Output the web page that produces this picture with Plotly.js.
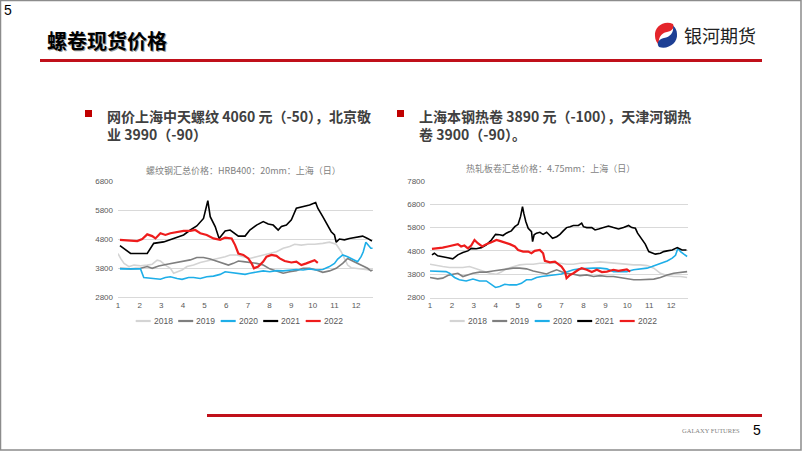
<!DOCTYPE html>
<html><head><meta charset="utf-8">
<script src="https://cdn.plot.ly/plotly-3.0.1.min.js"></script>
<style>html,body{margin:0;padding:0;background:#fff;overflow:hidden}#chart{width:802px;height:451px}</style>
</head><body><div id="chart"></div>
<script>
// ---------- data ----------
const months = [1,2,3,4,5,6,7,8,9,10,11,12];
const monthLabels = ['1','2','3','4','5','6','7','8','9','10','11','12'];
const seriesNames = ['2018','2019','2020','2021','2022'];
const rebarTicks = [2800,3800,4800,5800,6800];
const hrcTicks = [2800,3800,4800,5800,6800,7800];

// 螺纹钢汇总价格：HRB400：20mm：上海（日）
const rebar2018X = [1.00,1.12,1.28,1.51,1.74,2.04,2.35,2.58,2.81,2.96,3.19,3.42,3.57,3.73,3.96,4.19,4.49,4.80,5.10,5.41,5.72,5.95,6.18,6.48,6.79,7.09,7.40,7.71,8.01,8.32,8.63,8.93,9.16,9.47,9.77,10.08,10.46,10.77,11.08,11.31,11.46,11.61,11.77,12.00,12.30,12.61];
const rebar2018Y = [4300,4130,3960,3850,3900,3880,3900,3930,4070,4040,3900,3790,3620,3670,3730,3850,3900,3990,4040,4110,4160,4190,4250,4250,4190,4130,4190,4250,4310,4360,4480,4540,4620,4590,4620,4620,4650,4690,4620,4360,4130,3900,3810,3790,3770,3730];
const rebar2019X = [1.09,1.58,2.04,2.35,2.58,2.88,3.27,3.73,3.96,4.34,4.64,4.95,5.26,5.56,5.87,6.10,6.33,6.56,6.79,7.09,7.40,7.71,8.01,8.32,8.63,8.93,9.24,9.55,9.85,10.16,10.46,10.77,11.08,11.38,11.61,11.84,12.07,12.30,12.53,12.68,12.76];
const rebar2019Y = [3790,3770,3790,3850,3790,3870,3930,3990,4040,4080,4160,4160,4110,4040,3960,3900,3960,4040,4020,3990,3960,3900,3770,3700,3620,3670,3710,3790,3790,3730,3650,3700,3790,3960,4130,4040,3960,3880,3790,3700,3730];
const rebar2020X = [1.09,2.04,2.19,2.81,2.96,3.19,3.42,3.73,3.96,4.26,4.49,4.80,5.10,5.41,5.72,5.95,6.25,6.56,6.87,7.09,7.40,7.71,8.01,8.32,8.63,8.93,9.24,9.55,9.85,10.16,10.46,10.77,11.00,11.15,11.38,11.61,11.84,12.07,12.23,12.33,12.45,12.58,12.68,12.76];
const rebar2020Y = [3770,3770,3470,3440,3410,3470,3500,3440,3410,3470,3470,3440,3500,3520,3580,3670,3640,3620,3580,3620,3670,3700,3670,3710,3700,3730,3750,3730,3770,3730,3750,3850,3960,4110,4250,4190,4110,4020,4190,4360,4690,4590,4480,4480];
const rebar2021X = [1.09,1.58,2.35,2.65,3.11,3.57,4.03,4.34,4.64,4.95,5.15,5.26,5.49,5.67,5.79,5.95,6.18,6.41,6.56,6.87,7.09,7.40,7.71,7.94,8.17,8.40,8.55,8.78,9.01,9.24,9.55,9.85,10.13,10.23,10.46,10.62,10.85,11.00,11.08,11.23,11.46,11.69,12.00,12.30,12.53,12.73];
const rebar2021Y = [4570,4300,4300,4650,4700,4830,4940,5110,5250,5510,6120,5570,5230,4820,4940,5080,5110,5000,4900,4900,5110,5280,5400,5320,5280,5110,5230,5280,5460,5860,5920,5970,6060,5860,5570,5340,5050,4940,4690,4800,4770,4820,4860,4900,4820,4730];
const rebar2022X = [1.09,1.89,2.12,2.35,2.58,2.73,2.96,3.19,3.42,3.73,4.03,4.34,4.57,4.80,5.10,5.41,5.72,5.95,6.25,6.41,6.56,6.79,7.02,7.17,7.28,7.48,7.71,7.86,8.09,8.32,8.47,8.70,9.01,9.24,9.47,9.70,9.93,10.08,10.23];
const rebar2022Y = [4770,4730,4800,4960,4900,4820,5000,4940,5000,5030,5080,5080,5110,5000,4940,4820,4770,4850,4820,4590,4300,4250,4130,3960,3790,3850,4020,4190,4250,4220,4130,4040,3990,4020,3900,3960,4020,4070,3980];

// 热轧板卷汇总价格：4.75mm：上海（日）
const hrc2018X = [1.00,1.28,1.58,1.89,2.19,2.50,2.80,3.03,3.26,3.49,3.72,4.03,4.25,4.48,4.79,5.09,5.40,5.71,6.01,6.32,6.63,6.93,7.23,7.54,7.84,8.15,8.46,8.76,9.07,9.37,9.67,9.98,10.29,10.60,10.90,11.21,11.51,11.82,12.12,12.43,12.73];
const hrc2018Y = [4230,4170,4130,4090,4090,4090,4130,4060,3990,3910,3840,3800,3890,4030,4130,4200,4230,4230,4270,4270,4270,4270,4230,4230,4270,4270,4300,4330,4300,4270,4270,4230,4200,4200,4170,4060,3840,3740,3700,3700,3660];
const hrc2019X = [1.00,1.35,1.58,1.81,2.04,2.27,2.50,2.73,2.96,3.26,3.57,3.87,4.18,4.48,4.79,5.09,5.40,5.71,6.01,6.32,6.55,6.78,7.00,7.23,7.54,7.84,8.15,8.46,8.76,9.07,9.37,9.67,9.98,10.29,10.60,10.90,11.21,11.51,11.82,12.12,12.43,12.73];
const hrc2019Y = [3660,3600,3630,3740,3800,3840,3700,3770,3840,3890,3890,3940,3990,4030,4060,4060,4030,3940,3890,3810,3910,3990,3910,3840,3800,3740,3770,3700,3740,3700,3700,3660,3590,3560,3560,3560,3590,3660,3770,3840,3890,3910];
const hrc2020X = [1.00,1.43,1.73,1.89,2.12,2.34,2.65,2.96,3.26,3.57,3.72,3.99,4.18,4.41,4.64,4.94,5.17,5.40,5.63,5.86,6.09,6.39,6.70,7.00,7.23,7.54,7.84,8.15,8.46,8.76,9.07,9.37,9.67,9.98,10.29,10.60,10.90,11.13,11.36,11.59,11.82,12.05,12.20,12.31,12.43,12.58,12.73];
const hrc2020Y = [3940,3910,3910,3840,3660,3560,3510,3590,3510,3510,3410,3230,3270,3370,3340,3340,3410,3560,3560,3660,3700,3740,3800,3810,3890,3990,4030,4060,4060,4060,4030,3910,3910,3910,3990,4030,4060,4130,4200,4270,4370,4490,4610,4910,4770,4660,4560];
const hrc2021X = [1.09,1.20,1.35,1.58,1.81,2.04,2.27,2.50,2.73,2.88,3.11,3.34,3.57,3.80,3.99,4.18,4.33,4.48,4.71,4.87,5.02,5.13,5.22,5.28,5.37,5.48,5.63,5.68,5.75,5.86,6.01,6.16,6.32,6.47,6.59,6.78,6.93,7.08,7.23,7.39,7.54,7.77,7.92,8.00,8.15,8.38,8.53,8.69,8.91,9.14,9.37,9.60,9.83,10.06,10.21,10.37,10.47,10.67,10.82,10.98,11.13,11.28,11.51,11.66,11.82,12.05,12.28,12.50,12.70];
const hrc2021Y = [4630,4700,4590,4560,4510,4460,4630,4730,4800,4910,4890,4940,5060,5270,5510,5490,5460,5560,5660,5840,5940,6270,6700,6410,6060,5770,5630,5200,5490,5560,5600,5510,5600,5460,5340,5410,5510,5660,5800,5840,5890,5890,5990,5840,5800,5800,5700,5740,5800,5870,5800,5740,5800,5890,5800,5770,5560,5270,5090,4770,4700,4660,4700,4770,4800,4840,4940,4840,4840];
const hrc2022X = [1.09,1.35,1.58,1.81,2.04,2.27,2.42,2.57,2.73,2.88,3.03,3.18,3.38,3.57,3.80,4.03,4.18,4.41,4.64,4.87,5.02,5.25,5.48,5.63,5.78,6.01,6.16,6.24,6.47,6.70,6.85,7.00,7.16,7.23,7.39,7.54,7.77,7.92,8.15,8.38,8.61,8.84,9.07,9.37,9.60,9.83,9.98,10.13];
const hrc2022Y = [4890,4910,4940,4990,5030,5090,4990,5030,4910,5030,5270,5130,4990,5090,5170,5270,5230,5170,5090,4990,4840,4770,4770,4700,4800,4840,4700,4370,4310,4340,4230,4130,3910,3630,3770,3840,3990,4060,3990,3890,3990,3890,3910,3990,3940,3990,4010,3910];

// ---------- styling ----------
const colors = {'2018':'#d4d4d4','2019':'#7f7f7f','2020':'#1eaee8','2021':'#000000','2022':'#ee1c1c'};
const widths = {'2018':1.6,'2019':1.6,'2020':1.6,'2021':1.6,'2022':2.2};
const W = 802, H = 451;
const px = v => v / W, py = v => 1 - v / H;
const conv = s => s.replace(/(-?[\d.]+),(-?[\d.]+)/g, (m,a,b) => px(+a).toFixed(5) + ',' + py(+b).toFixed(5));

const rebarX = [rebar2018X, rebar2019X, rebar2020X, rebar2021X, rebar2022X];
const rebarY = [rebar2018Y, rebar2019Y, rebar2020Y, rebar2021Y, rebar2022Y];
const hrcX = [hrc2018X, hrc2019X, hrc2020X, hrc2021X, hrc2022X];
const hrcY = [hrc2018Y, hrc2019Y, hrc2020Y, hrc2021Y, hrc2022Y];

const traces = [];
seriesNames.forEach((n, i) => {
  traces.push({x: rebarX[i], y: rebarY[i], name: n, type: 'scatter', mode: 'lines', showlegend: false,
    line: {color: colors[n], width: widths[n]}, xaxis: 'x', yaxis: 'y', hoverinfo: 'skip'});
});
seriesNames.forEach((n, i) => {
  traces.push({x: hrcX[i], y: hrcY[i], name: n, type: 'scatter', mode: 'lines', showlegend: false,
    line: {color: colors[n], width: widths[n]}, xaxis: 'x2', yaxis: 'y2', hoverinfo: 'skip'});
});

const tickFont = {family: 'Liberation Sans, Arial, sans-serif', size: 8, color: '#595959'};
const xCommon = {tickvals: months, ticktext: monthLabels, showgrid: false, showline: true, linecolor: '#d9d9d9',
  linewidth: 1, zeroline: false, ticks: '', tickfont: tickFont, fixedrange: true};
const yCommon = {gridcolor: '#d9d9d9', gridwidth: 1, zeroline: false, showline: false, ticks: '',
  tickfont: tickFont, fixedrange: true, ticklabelstandoff: 4};

const cjk = 'Noto Sans CJK SC, sans-serif';

const annotations = [
  {text: '5', x: px(2), y: py(10), xanchor: 'left', yanchor: 'middle', font: {family: 'Liberation Sans, Arial', size: 14, color: '#000'}},
  {text: '<b>螺卷现货价格</b>', x: px(46), y: py(41), xanchor: 'left', yanchor: 'middle', font: {family: cjk, size: 20, color: '#9a9a9a'}},
  {text: '<b>螺卷现货价格</b>', x: px(45), y: py(40), xanchor: 'left', yanchor: 'middle', font: {family: cjk, size: 20, color: '#000'}},
  {text: '银河期货', x: px(682), y: py(35), xanchor: 'left', yanchor: 'middle', font: {family: cjk, size: 18, color: '#222'}},
  {text: '<b>网价上海中天螺纹 4060 元（-50），北京敬</b><br><b>业 3990（-90）</b>', x: px(105), y: py(104), xanchor: 'left', yanchor: 'top', align: 'left', font: {family: cjk, size: 14, color: '#404040'}},
  {text: '<b>上海本钢热卷 3890 元（-100），天津河钢热</b><br><b>卷 3900（-90）。</b>', x: px(417), y: py(104), xanchor: 'left', yanchor: 'top', align: 'left', font: {family: cjk, size: 14, color: '#404040'}},
  {text: '螺纹钢汇总价格：HRB400：20mm：上海（日）', x: px(244), y: py(170), xanchor: 'center', yanchor: 'middle', font: {family: cjk, size: 9, color: '#7f7f7f'}},
  {text: '热轧板卷汇总价格：4.75mm：上海（日）', x: px(550), y: py(168), xanchor: 'center', yanchor: 'middle', font: {family: cjk, size: 9, color: '#7f7f7f'}},
  {text: 'GALAXY FUTURES', x: px(711), y: py(430), xanchor: 'center', yanchor: 'middle', font: {family: 'Liberation Serif, serif', size: 6.5, color: '#7f7f7f'}},
  {text: '5', x: px(757), y: py(430), xanchor: 'center', yanchor: 'middle', font: {family: 'Liberation Sans, Arial', size: 14, color: '#000'}}
];

const shapes = [
  {type: 'rect', x0: px(0.5), x1: px(801), y0: py(0.5), y1: py(450), line: {color: '#8c8c8c', width: 1.5}},
  {type: 'line', x0: px(40), x1: px(762), y0: py(60.5), y1: py(60.5), line: {color: '#c0101a', width: 3}},
  {type: 'line', x0: px(207), x1: px(762), y0: py(415.5), y1: py(415.5), line: {color: '#c0101a', width: 3}},
  {type: 'rect', x0: px(85), x1: px(92), y0: py(110), y1: py(117), fillcolor: '#c00000', line: {width: 0}},
  {type: 'rect', x0: px(397), x1: px(404), y0: py(110), y1: py(117), fillcolor: '#c00000', line: {width: 0}},
  {type: 'path', path: conv('M673,24 C664,20 654,27 655,36 C655,40 657,43 659,45 C658,38 661,33 667,32 C672,31 675,28 673,24 Z'), fillcolor: '#e4252b', line: {width: 0}},
  {type: 'path', path: conv('M659,47 C668,50 678,43 677,34 C677,30 675,27 673,26 C674,33 670,37 664,38 C659,39 656,43 659,47 Z'), fillcolor: '#1d3f94', line: {width: 0}}
];

// legend keys (one per series, for each chart)
const legendStarts = [152.7, 466.7];
const legendPitch = 42.5, legendY = 321;
legendStarts.forEach(start => {
  seriesNames.forEach((n, i) => {
    const tx = start + i * legendPitch;
    shapes.push({type: 'line', x0: px(tx - 17), x1: px(tx - 2), y0: py(legendY), y1: py(legendY),
      line: {color: colors[n], width: 2.2}});
    annotations.push({text: n, x: px(tx - 1), y: py(legendY), xanchor: 'left', yanchor: 'middle',
      font: {family: 'Liberation Sans, Arial, sans-serif', size: 8.5, color: '#595959'}});
  });
});

annotations.forEach(a => Object.assign(a, {xref: 'paper', yref: 'paper', showarrow: false}));
shapes.forEach(s => Object.assign(s, {xref: 'paper', yref: 'paper', layer: 'above'}));

const layout = {
  width: W, height: H, margin: {l: 0, r: 0, t: 0, b: 0},
  paper_bgcolor: '#fff', plot_bgcolor: 'rgba(0,0,0,0)', showlegend: false,
  font: {family: cjk},
  xaxis: Object.assign({}, xCommon, {domain: [px(118), px(373)], range: [1, 12.78], anchor: 'y'}),
  yaxis: Object.assign({}, yCommon, {domain: [py(297), py(181)], range: [2800, 6800], tickvals: rebarTicks, anchor: 'x'}),
  xaxis2: Object.assign({}, xCommon, {domain: [px(430), px(688)], range: [1, 12.77], anchor: 'y2'}),
  yaxis2: Object.assign({}, yCommon, {domain: [py(297.5), py(181)], range: [2800, 7800], tickvals: hrcTicks, anchor: 'x2'}),
  annotations: annotations,
  shapes: shapes
};

Plotly.newPlot('chart', traces, layout, {staticPlot: true, displayModeBar: false});
</script>
</body></html>
